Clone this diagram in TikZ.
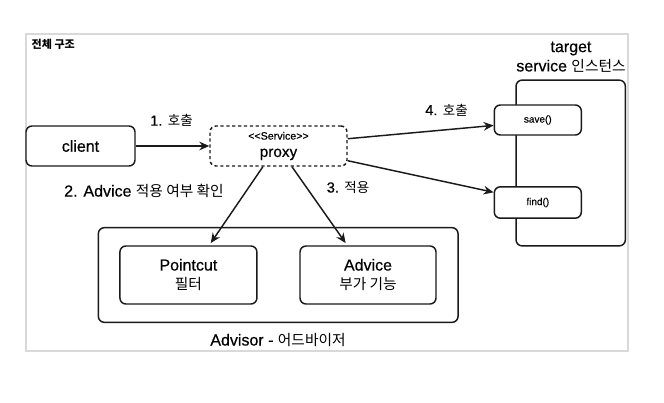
\documentclass[tikz,border=0pt]{standalone}
\usepackage{fontspec}
\setmainfont{Liberation Sans}[FakeBold=0.45]
\newfontfamily\krfont[Scale=0.92]{Noto Sans CJK KR}
\newcommand{\kr}[1]{{\krfont #1}}
\usepackage{xcolor}
\usepackage{tikz}
\usetikzlibrary{arrows.meta}
\definecolor{framegray}{HTML}{D9D9D9}
\definecolor{inkblack}{HTML}{1A1A1A}

\begin{document}
\begin{tikzpicture}[
    x=0.75pt, y=-0.75pt,
    box/.style={draw=inkblack, line width=1.1pt, rounded corners=4.5pt, align=center, inner sep=1pt, fill=white},
    dashbox/.style={box, dash pattern=on 2.4pt off 2pt},
    flow/.style={-{Stealth[length=7.5pt, width=6.5pt, inset=2.5pt]}, line width=1.1pt, draw=inkblack},
    big/.style={font=\fontsize{12}{14.5}\selectfont},
    mid/.style={font=\fontsize{11}{13}\selectfont},
    tiny/.style={font=\fontsize{7.5}{9}\selectfont}
]
\useasboundingbox (0,0) rectangle (664,403);
\draw[framegray, line width=0.8pt] (26,34) rectangle (628,351);
\node[anchor=west, font=\fontsize{9}{11}\selectfont\bfseries] (title) at (27,44) {\kr{전체 구조}};

% client and proxy
\node[box, big, minimum width=81.75pt, minimum height=30pt] (client) at (80.5,146) {client};
\node[dashbox, minimum width=102.75pt, minimum height=30pt] (proxy) at (278.5,146)
    {{\fontsize{8}{9}\selectfont <{}<Service>{}>}\\[1pt]{\fontsize{11.5}{13}\selectfont proxy}};

% target
\node[box, minimum width=82pt, minimum height=124.3pt] (target) at (570.7,163) {};
\node[big, align=center] (targetlbl) at (571,57) {target\\service \kr{인스턴스}};
\node[box, tiny, minimum width=65.25pt, minimum height=22.5pt] (save) at (537.8,120) {save()};
\node[box, tiny, minimum width=65.25pt, minimum height=23.5pt] (find) at (537.8,202.5) {find()};

% advisor
\node[box, minimum width=269.8pt, minimum height=71pt] (advisor) at (278.2,275) {};
\node[box, big, minimum width=102.75pt, minimum height=43.5pt] (pointcut) at (188.4,275) {Pointcut\\\kr{필터}};
\node[box, big, minimum width=102pt, minimum height=43.5pt] (advice) at (368,275) {Advice\\\kr{부가 기능}};
\node[big] (advisorlbl) at (278,340) {Advisor - \kr{어드바이저}};

\draw[flow] (client) -- (proxy);
\draw[flow] (proxy.6) -- (save.187);
\draw[flow] (proxy.-12) -- (find.167);
\draw[flow, shorten >=2pt] (proxy.233) -- (pointcut.55);
\draw[flow, shorten >=2pt] (proxy.303) -- (advice.125);

\node[mid] (step1) at (171.5,120.5) {1. \kr{호출}};
\node[big] (step2) at (144,191) {2. Advice \kr{적용 여부 확인}};
\node[mid] (step3) at (348,187.5) {3. \kr{적용}};
\node[mid] (step4) at (446.5,110) {4. \kr{호출}};
\end{tikzpicture}
\end{document}
